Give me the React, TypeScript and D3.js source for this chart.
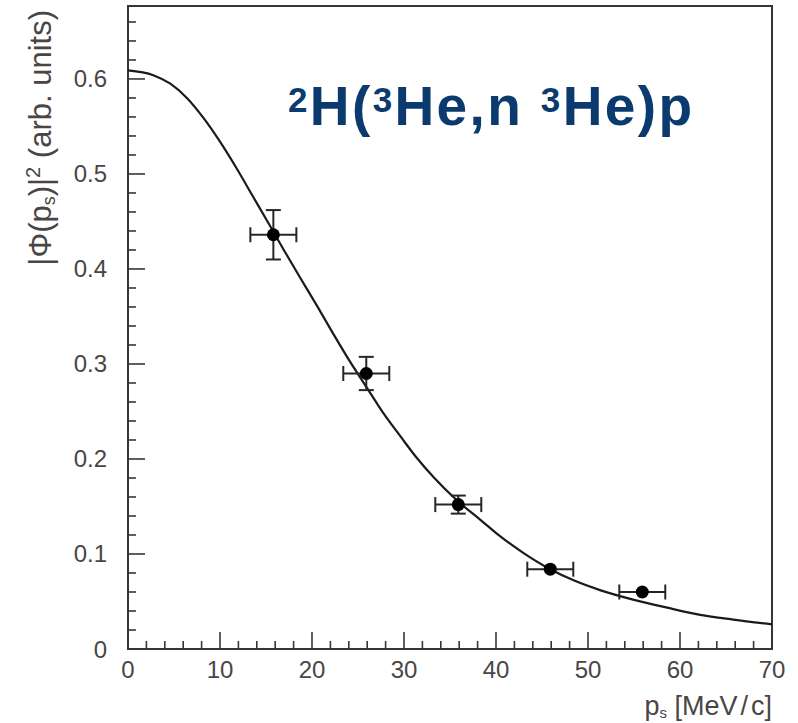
import React from "react";
import * as d3 from "d3";

// Measured data points
const pointX = [15.8, 25.9, 35.9, 45.9, 55.9];
const pointY = [0.436, 0.29, 0.152, 0.084, 0.06];
const pointXErr = [2.5, 2.5, 2.5, 2.5, 2.5];
const pointYErr = [0.026, 0.0175, 0.0095, 0.004, 0.004];

// Fit curve
const curveX = [0, 2.75, 4.6, 6.4, 8.2, 10, 11.8, 13.6, 15.4, 17, 18.7, 20.5, 22.3, 24.1, 25.9, 27.7, 29.6, 31.4, 33.2, 35.8, 38.3, 40.4, 43, 45.9, 48.5, 51.3, 54.9, 58.6, 62.2, 65.8, 70];
const curveY = [0.609, 0.604, 0.595, 0.58, 0.559, 0.534, 0.506, 0.476, 0.446, 0.419, 0.391, 0.362, 0.332, 0.303, 0.276, 0.249, 0.224, 0.201, 0.181, 0.156, 0.136, 0.119, 0.101, 0.084, 0.072, 0.062, 0.052, 0.0435, 0.036, 0.031, 0.026];

const xTickLabels = [0, 10, 20, 30, 40, 50, 60, 70];
const yTickLabels = [0, 0.1, 0.2, 0.3, 0.4, 0.5, 0.6];

const W = 798;
const H = 723;
const M = { left: 128, top: 6, right: 26, bottom: 74 };
const FONT = "'Liberation Sans', Arial, Helvetica, sans-serif";
const AXIS = "#3a3535";
const TXT = "#4a4545";

export default function App() {
  const x = d3.scaleLinear().domain([0, 70]).range([M.left, W - M.right]);
  const y = d3.scaleLinear().domain([0, 0.6768]).range([H - M.bottom, M.top]);

  const xMinor = d3.range(0, 70.001, 2).filter((v) => Math.abs(v % 10) > 1e-6);
  const yMinor = d3.range(0, 0.677, 0.02).filter((v) => Math.abs(Math.round(v * 10) - v * 10) > 1e-6);

  const curveData = curveX.map((cx, i) => [cx, curveY[i]] as [number, number]);
  const line = d3
    .line<[number, number]>()
    .x((d) => x(d[0]))
    .y((d) => y(d[1]))
    .curve(d3.curveMonotoneX);

  const r = 6.5;
  const cap = 7.5;
  const x0 = x(0);
  const y0 = y(0);

  return (
    <svg width={W} height={H} style={{ position: "absolute", left: 0, top: 0, background: "#fff" }} fontFamily={FONT}>
      {/* frame */}
      <rect x={x(0)} y={y(0.6768)} width={x(70) - x(0)} height={y(0) - y(0.6768)} fill="none" stroke={AXIS} strokeWidth={2} />

      {/* x ticks */}
      {xTickLabels.map((v) => (
        <line key={"xM" + v} x1={x(v)} x2={x(v)} y1={y0} y2={y0 - 17} stroke={AXIS} strokeWidth={1.6} />
      ))}
      {xMinor.map((v) => (
        <line key={"xm" + v} x1={x(v)} x2={x(v)} y1={y0} y2={y0 - 8} stroke={AXIS} strokeWidth={1.6} />
      ))}
      {xTickLabels.map((v) => (
        <text key={"xl" + v} x={x(v)} y={y0 + 29} textAnchor="middle" fontSize={24} fill={TXT}>
          {v}
        </text>
      ))}

      {/* y ticks */}
      {yTickLabels.map((v) => (
        <line key={"yM" + v} x1={x0} x2={x0 + 17} y1={y(v)} y2={y(v)} stroke={AXIS} strokeWidth={1.6} />
      ))}
      {yMinor.map((v) => (
        <line key={"ym" + v} x1={x0} x2={x0 + 8} y1={y(v)} y2={y(v)} stroke={AXIS} strokeWidth={1.6} />
      ))}
      {yTickLabels.map((v) => (
        <text key={"yl" + v} x={107} y={y(v) + 8.5} textAnchor="end" fontSize={24} fill={TXT}>
          {v === 0 ? "0" : v.toFixed(1)}
        </text>
      ))}

      {/* axis titles */}
      <text transform={`translate(51,10) rotate(-90)`} textAnchor="end" fontSize={31} fill={TXT}>
        |Φ(p<tspan fontSize={18} dy={4}>s</tspan>
        <tspan dy={-4}>)|</tspan>
        <tspan fontSize={20} dy={-11}>2</tspan>
        <tspan dy={11}> (arb. units)</tspan>
      </text>
      <text x={772} y={715} textAnchor="end" fontSize={27} fill={TXT}>
        p<tspan fontSize={15} dy={3}>s</tspan>
        <tspan dy={-3}> [MeV</tspan>
        <tspan dx={3}>/</tspan>
        <tspan dx={3}>c]</tspan>
      </text>

      {/* curve */}
      <path d={line(curveData) ?? ""} fill="none" stroke="#1e1a1a" strokeWidth={2.2} />

      {/* data points with error bars */}
      {pointX.map((px, i) => {
        const cx = x(px);
        const cy = y(pointY[i]);
        const xl = x(px - pointXErr[i]);
        const xr = x(px + pointXErr[i]);
        const yt = y(pointY[i] + pointYErr[i]);
        const yb = y(pointY[i] - pointYErr[i]);
        const showY = cy - yt > r;
        return (
          <g key={"p" + i} stroke="#2a2525" strokeWidth={2}>
            <line x1={xl} x2={xr} y1={cy} y2={cy} />
            <line x1={xl} x2={xl} y1={cy - cap} y2={cy + cap} />
            <line x1={xr} x2={xr} y1={cy - cap} y2={cy + cap} />
            {showY && (
              <>
                <line x1={cx} x2={cx} y1={yt} y2={yb} />
                <line x1={cx - cap} x2={cx + cap} y1={yt} y2={yt} />
                <line x1={cx - cap} x2={cx + cap} y1={yb} y2={yb} />
              </>
            )}
            <circle cx={cx} cy={cy} r={r} fill="#000" stroke="none" />
          </g>
        );
      })}

      {/* reaction label */}
      <text x={288} y={125} fontSize={55} fontWeight="bold" fill="#0b3a6e" textLength={404} lengthAdjust="spacing">
        <tspan fontSize={35} dy={-13}>2</tspan>
        <tspan dy={13}>H(</tspan>
        <tspan fontSize={35} dy={-13}>3</tspan>
        <tspan dy={13}>He,n </tspan>
        <tspan fontSize={35} dy={-13}>3</tspan>
        <tspan dy={13}>He)p</tspan>
      </text>
    </svg>
  );
}
